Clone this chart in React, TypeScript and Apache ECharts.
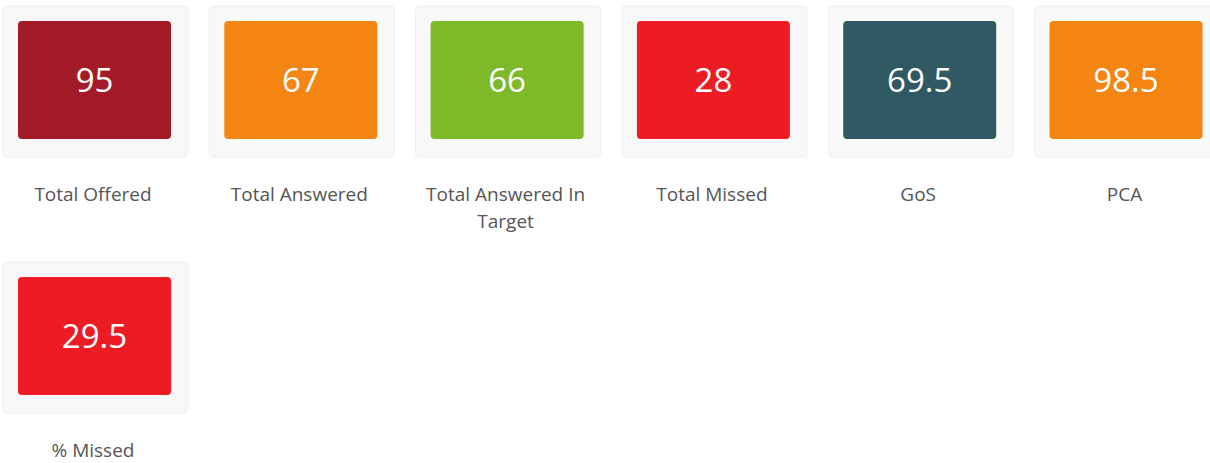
import React, { useEffect, useRef } from "react";
import * as echarts from "echarts";

const labels = [
  "Total Offered",
  "Total Answered",
  "Total Answered In\nTarget",
  "Total Missed",
  "GoS",
  "PCA",
  "% Missed",
];
const values = ["95", "67", "66", "28", "69.5", "98.5", "29.5"];
const colors = ["#A31B29", "#F58512", "#7DB928", "#ED1C24", "#2F5963", "#F58512", "#ED1C24"];

const PER_ROW = 6;
const COL_STEP = 206.3;
const ROW_STEP = 256;

export default function App() {
  const ref = useRef<HTMLDivElement>(null);
  useEffect(() => {
    if (!ref.current) return;
    const chart = echarts.init(ref.current, null, { renderer: "svg" });
    const elements: any[] = [];
    values.forEach((v, i) => {
      const col = i % PER_ROW;
      const row = Math.floor(i / PER_ROW);
      const x0 = 3 + col * COL_STEP;
      const y0 = 6 + row * ROW_STEP;
      elements.push({
        type: "rect",
        shape: { x: x0, y: y0, width: 185, height: 151, r: 4 },
        style: { fill: "#f8f8f8", stroke: "#efefef", lineWidth: 1 },
      });
      elements.push({
        type: "rect",
        shape: { x: x0 + 15, y: y0 + 15, width: 153, height: 118, r: 4 },
        style: { fill: colors[i] },
      });
      elements.push({
        type: "text",
        x: x0 + 91.5,
        y: y0 + 73,
        style: {
          text: v,
          fill: "#ffffff",
          font: '33px "Open Sans", "Noto Sans", sans-serif',
          align: "center",
          verticalAlign: "middle",
        },
      });
      elements.push({
        type: "text",
        x: x0 + 90,
        y: y0 + 174,
        style: {
          text: labels[i],
          fill: "#555555",
          font: '19px "Open Sans", "Noto Sans", sans-serif',
          lineHeight: 27,
          align: "center",
          verticalAlign: "top",
        },
      });
    });
    chart.setOption({
      animation: false,
      graphic: { elements },
    });
    return () => chart.dispose();
  }, []);
  return (
    <div
      ref={ref}
      style={{ position: "fixed", left: 0, top: 0, width: 1210, height: 463, background: "#fff" }}
    />
  );
}
